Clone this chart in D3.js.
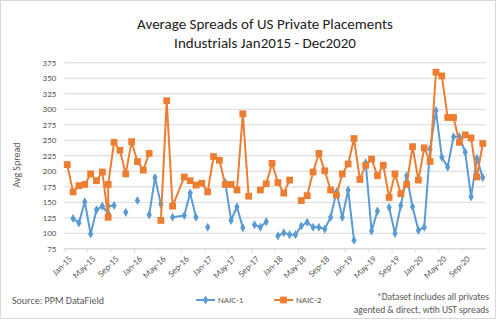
<!DOCTYPE html>
<html>
<head>
<meta charset="utf-8">
<script src="https://cdn.jsdelivr.net/npm/d3@7"></script>
<style>
  body { margin: 0; background: #fff; }
  text { font-family: Carlito, Calibri, "Liberation Sans", Arial, sans-serif; }
</style>
</head>
<body>
<svg id="chart" width="497" height="322"></svg>
<script>
// one entry per record; Aug-15 has two records, Aug-16 has none
const recordMonths = [
  "Jan-15","Feb-15","Mar-15","Apr-15","May-15","Jun-15","Jul-15","Aug-15","Aug-15","Sep-15","Oct-15","Nov-15","Dec-15",
  "Jan-16","Feb-16","Mar-16","Apr-16","May-16","Jun-16","Jul-16","Sep-16","Oct-16","Nov-16","Dec-16",
  "Jan-17","Feb-17","Mar-17","Apr-17","May-17","Jun-17","Jul-17","Aug-17","Sep-17","Oct-17","Nov-17","Dec-17",
  "Jan-18","Feb-18","Mar-18","Apr-18","May-18","Jun-18","Jul-18","Aug-18","Sep-18","Oct-18","Nov-18","Dec-18",
  "Jan-19","Feb-19","Mar-19","Apr-19","May-19","Jun-19","Jul-19","Aug-19","Sep-19","Oct-19","Nov-19","Dec-19",
  "Jan-20","Feb-20","Mar-20","Apr-20","May-20","Jun-20","Jul-20","Aug-20","Sep-20","Oct-20","Nov-20","Dec-20"
];

const naic1 = [
  null, 123, 116, 150, 98, 137, 143, 131, 143, 144, null, 133, null,
  152, null, 129, 189, 146, null, 125, 128, 164, 125, null,
  109, null, null, 181, 120, 142, 108, null, 113, 109, 118, null,
  95, 100, 97, 97, 111, 117, 109, 109, 106, 125, 166, 125,
  169, 88, null, 213, 103, 135, null, 141, 99, 144, 192, 142,
  104, 109, 235, 297, 222, 206, 255, 255, 230, 158, 220, 189
];

const naic2 = [
  210, 166, 176, 178, 195, 184, 198, 125, 178, 246, 233, 195, 247,
  215, 201, 228, null, 120, 313, 143, 190, 184, 177, 180,
  166, 223, 217, 178, 178, 169, 292, 159, null, 169, 179, 212,
  181, 164, 185, null, 152, 160, 198, 228, 200, 169, 161, 195,
  211, 252, 186, 209, 219, 192, 209, 157, 195, 163, 178, 239,
  185, 237, 215, 359, 353, 286, 286, 246, 258, 253, 190, 244
];

const yTicks = [75, 100, 125, 150, 175, 200, 225, 250, 275, 300, 325, 350, 375];
const xTickLabels = ["Jan-15","May-15","Sep-15","Jan-16","May-16","Sep-16","Jan-17","May-17","Sep-17",
  "Jan-18","May-18","Sep-18","Jan-19","May-19","Sep-19","Jan-20","May-20","Sep-20"];

const series = [
  { name: "NAIC-1", color: "#5b9bd5", symbol: d3.symbolDiamond, size: 24, values: naic1 },
  { name: "NAIC-2", color: "#ed7d31", symbol: d3.symbolSquare, size: 46, values: naic2 }
];

const svg = d3.select("#chart");
const plotLeft = 64.3, plotRight = 485.7, plotTop = 62.3, plotBottom = 248.3;

svg.append("rect")
  .attr("x", 0.5).attr("y", 0.5).attr("width", 495).attr("height", 318)
  .attr("fill", "#fff").attr("stroke", "#d9d9d9");

const fmt = d3.timeFormat("%b-%y");
const axisMonths = d3.timeMonth.range(new Date(2015, 0, 1), new Date(2021, 0, 1)).map(fmt);
const x = d3.scaleBand().domain(axisMonths).range([plotLeft, plotRight]);
const cx = m => x(m) + x.bandwidth() / 2;
const y = d3.scaleLinear().domain([75, 375]).range([plotBottom, plotTop]);

// gridlines + y labels
const yAxis = svg.append("g")
  .attr("transform", `translate(${plotLeft},0)`)
  .call(d3.axisLeft(y).tickValues(yTicks).tickSize(-(plotRight - plotLeft)).tickPadding(8));
yAxis.select(".domain").remove();
yAxis.selectAll("line").attr("stroke", "#d9d9d9");
yAxis.selectAll("text").attr("fill", "#595959").style("font-size", "9px");

// x labels
const xAxis = svg.append("g")
  .attr("transform", `translate(0,${plotBottom})`)
  .call(d3.axisBottom(x).tickValues(xTickLabels).tickSize(0).tickSizeOuter(0));
xAxis.select(".domain").attr("stroke", "#d9d9d9");
xAxis.selectAll("text")
  .attr("fill", "#595959").style("font-size", "9px")
  .attr("text-anchor", "end")
  .attr("x", 0).attr("y", 0).attr("dy", "0.35em")
  .attr("transform", "translate(3,9) rotate(-45)");

svg.append("g").selectAll("line")
  .data(xTickLabels)
  .join("line")
  .attr("x1", d => x(d)).attr("x2", d => x(d))
  .attr("y1", plotBottom).attr("y2", plotBottom + 4)
  .attr("stroke", "#d9d9d9");

// series
series.forEach(s => {
  const pts = recordMonths.map((m, i) => ({ m, v: s.values[i] }));
  const line = d3.line()
    .defined(d => d.v !== null)
    .x(d => cx(d.m))
    .y(d => y(d.v));
  svg.append("path")
    .datum(pts)
    .attr("d", line)
    .attr("fill", "none")
    .attr("stroke", s.color)
    .attr("stroke-width", 2)
    .attr("stroke-linejoin", "round");
  svg.append("g").selectAll("path")
    .data(pts.filter(d => d.v !== null))
    .join("path")
    .attr("transform", d => `translate(${cx(d.m)},${y(d.v)})`)
    .attr("d", d3.symbol(s.symbol, s.size))
    .attr("fill", s.color);
});

// titles
const title = svg.append("text")
  .attr("text-anchor", "middle").attr("fill", "#222").style("font-size", "15px");
title.append("tspan").attr("x", 265).attr("y", 29).text("Average Spreads of US Private Placements");
title.append("tspan").attr("x", 265).attr("y", 47.5).text("Industrials Jan2015 - Dec2020");

svg.append("text")
  .attr("transform", "translate(20,165) rotate(-90)")
  .attr("text-anchor", "middle").attr("fill", "#595959").style("font-size", "10px")
  .text("Avg Spread");

// legend
const legend = svg.append("g").selectAll("g")
  .data(series)
  .join("g")
  .attr("transform", (d, i) => `translate(${196 + i * 78},300)`);
legend.append("line")
  .attr("x1", 0).attr("x2", 19)
  .attr("stroke", d => d.color).attr("stroke-width", 2);
legend.append("path")
  .attr("transform", "translate(9.5,0)")
  .attr("d", d => d3.symbol(d.symbol, d.size)())
  .attr("fill", d => d.color);
legend.append("text")
  .attr("x", 22).attr("dy", "0.35em")
  .attr("fill", "#595959").style("font-size", "9px")
  .text(d => d.name);

svg.append("text")
  .attr("x", 12).attr("y", 303.5)
  .attr("fill", "#595959").style("font-size", "10px")
  .text("Source: PPM DataField");

const note = svg.append("text")
  .attr("text-anchor", "end").attr("fill", "#595959").style("font-size", "9.5px");
note.append("tspan").attr("x", 489).attr("y", 300).text("*Dataset includes all privates");
note.append("tspan").attr("x", 489).attr("y", 313).text("agented & direct, wtih UST spreads");
</script>
</body>
</html>
